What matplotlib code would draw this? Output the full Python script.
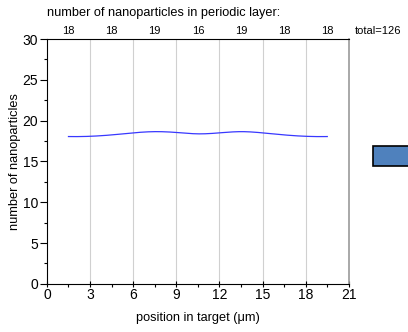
import matplotlib
matplotlib.use("Agg")
import matplotlib.pyplot as plt
from matplotlib.patches import Rectangle
import numpy as np

plt.rcParams['font.family'] = ['Liberation Sans', 'DejaVu Sans']

# data
pos = [1.5, 3.0, 4.5, 6.0, 7.5, 9.0, 10.5, 12.0, 13.5, 15.0, 16.5, 18.0, 19.5]
counts = [18.05, 18.08, 18.25, 18.5, 18.65, 18.55, 18.38, 18.5, 18.65, 18.5, 18.25, 18.08, 18.05]
layer_centers = [1.5, 4.5, 7.5, 10.5, 13.5, 16.5, 19.5]
layer_counts = ['18', '18', '19', '16', '19', '18', '18']
total_label = 'total=126'

fig = plt.figure(figsize=(4.08, 3.32), dpi=100)
ax = fig.add_axes([0.115, 0.145, 0.74, 0.7375])

xs = np.linspace(pos[0], pos[-1], 300)
try:
    from scipy.interpolate import CubicSpline
    ys = CubicSpline(pos, counts)(xs)
except Exception:
    ys = np.interp(xs, pos, counts)
ax.plot(xs, ys, color='#3838ff', lw=0.9)

ax.set_xlim(0, 21)
ax.set_ylim(0, 30)
ax.set_xticks(range(0, 22, 3))
ax.set_xticks(np.arange(1.5, 21, 3), minor=True)
ax.set_yticks(range(0, 31, 5))
ax.set_yticks(np.arange(2.5, 30, 5), minor=True)
for g in range(3, 21, 3):
    ax.axvline(g, color='#d0d0d0', lw=0.8, zorder=0)

ax.tick_params(axis='y', which='major', direction='out', length=5, width=0.8, labelsize=10, pad=1.5)
ax.tick_params(axis='y', which='minor', direction='out', length=2.5, width=0.8)
ax.tick_params(axis='x', which='major', direction='inout', length=4, width=0.8, labelsize=10, pad=1)
ax.tick_params(axis='x', which='minor', direction='out', length=1.8, width=0.8)
ax.tick_params(top=False, right=False)
ax.spines['right'].set_color('#999999')
ax.spines['right'].set_linewidth(1.2)
for s in ['left', 'bottom', 'top']:
    ax.spines[s].set_linewidth(0.8)

ax.set_xlabel('position in target (\u03bcm)', fontsize=9.2, labelpad=7)
ax.set_ylabel('number of nanoparticles', fontsize=9.2, labelpad=1)

for xc, lab in zip(layer_centers, layer_counts):
    ax.text(xc, 30.4, lab, ha='center', va='bottom', fontsize=8)
ax.text(21.4, 30.4, total_label, ha='left', va='bottom', fontsize=8)
fig.text(0.115, 0.96, 'number of nanoparticles in periodic layer:', ha='left', va='center', fontsize=9.2)

fig.patches.append(Rectangle((373/408, 1 - 166/332), 0.1, 20/332, transform=fig.transFigure,
                             facecolor='#4f81bd', edgecolor='black', lw=1.2, figure=fig))

fig.savefig('out.png', dpi=100)
